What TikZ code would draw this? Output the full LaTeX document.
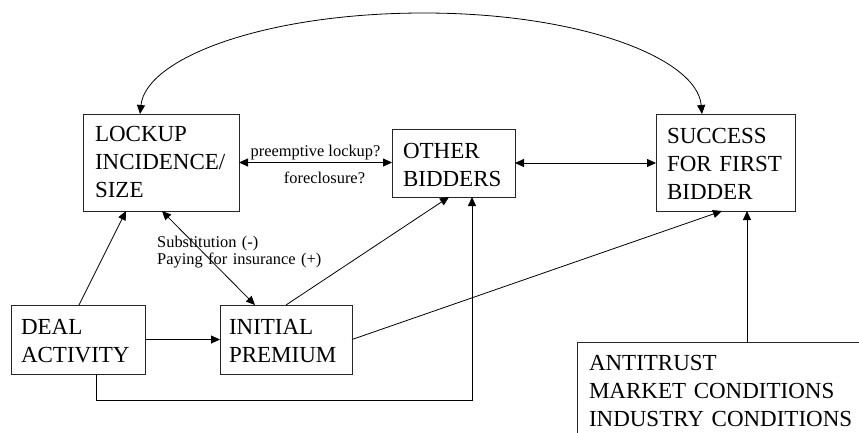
\documentclass[tikz,border=0pt]{standalone}
\usepackage{fontspec}
\setmainfont{Liberation Serif}
\usetikzlibrary{arrows.meta,calc}
\begin{document}
\begin{tikzpicture}[x=1pt,y=-1pt,
  boxnode/.style={draw=black!85,line width=1pt,rectangle,anchor=north west,
    inner ysep=0pt,outer sep=0pt,align=left,
    font=\fontsize{23}{28}\selectfont},
  arr/.style={line width=0.8pt,-{Triangle[length=9pt,width=8pt]}},
  biarr/.style={line width=0.8pt,{Triangle[length=9pt,width=8pt]}-{Triangle[length=9pt,width=8pt]}},
  lbl/.style={inner sep=0pt,font=\fontsize{16.4}{17.5}\selectfont}]
\clip (0,0) rectangle (859,432);
% boxes
\node[boxnode,inner xsep=12pt,text width=132pt,text height=27.7pt,text depth=69.3pt] (lockup) at (83,114) {LOCKUP\\INCIDENCE/\\SIZE};
\node[boxnode,inner xsep=11pt,text width=101pt,text height=29pt,text depth=39pt] (other) at (392,129) {OTHER\\BIDDERS};
\node[boxnode,inner xsep=11pt,text width=117pt,text height=29pt,text depth=68pt] (success) at (656,114) {SUCCESS\\FOR FIRST\\BIDDER};
\node[boxnode,inner xsep=10pt,text width=114pt,text height=29pt,text depth=40pt] (deal) at (11,305) {DEAL\\ACTIVITY};
\node[boxnode,inner xsep=9pt,text width=114pt,text height=29pt,text depth=40pt] (initial) at (220,305) {INITIAL\\PREMIUM};
\node[boxnode,inner xsep=12pt,text width=300pt,text height=28pt,text depth=90pt] (anti) at (577,342) {ANTITRUST\\MARKET CONDITIONS\\INDUSTRY CONDITIONS};
% curve on top
\draw[biarr] ([xshift=-21pt]lockup.north) .. controls (146,58) and (265,13) .. (424,13)
  .. controls (580,13) and (697,58) .. ([xshift=-23.5pt]success.north);
% horizontal arrows
\draw[biarr] (lockup.east) -- (lockup.east -| other.west)
  node[lbl,midway,anchor=base,yshift=6.5pt] (pre) {preemptive lockup?}
  node[lbl,midway,anchor=base,xshift=9pt,yshift=-20.5pt] (fore) {foreclosure?};
\draw[biarr] (other.east) -- (other.east -| success.west);
% other connectors
\draw[arr] ([xshift=1pt]deal.north) -- ([xshift=-35pt]lockup.south);
\draw[biarr] ([xshift=1pt]lockup.south) -- ([xshift=-31pt]initial.north);
\draw[arr] (initial.north) -- ([xshift=-4.5pt]other.south);
\draw[arr] (initial.east) -- ([xshift=-3.5pt]success.south);
\draw[arr] (deal.east) -- (initial.west);
\draw[arr] ([xshift=18pt]deal.south) -- ++(0,26) -| ([xshift=18.5pt]other.south);
\draw[arr] ([xshift=170pt]anti.north west) -- ([xshift=170pt]anti.north west |- success.south);
% label near the lockup/premium arrow
\node[lbl,anchor=base west,text width=230pt,align=left] (subst) at (157,247) {Substitution (-)\\Paying for insurance (+)};
\end{tikzpicture}
\end{document}
